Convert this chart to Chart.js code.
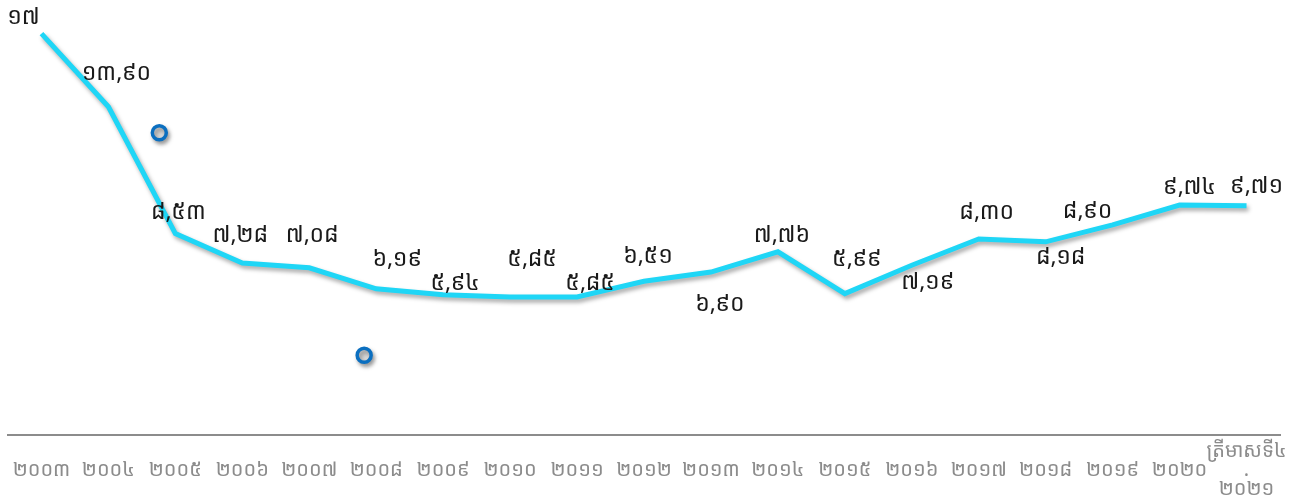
<!DOCTYPE html>
<html>
<head>
<meta charset="utf-8">
<script src="https://cdn.jsdelivr.net/npm/chart.js@4.4.1/dist/chart.umd.min.js"></script>
<style>
  html, body { margin: 0; padding: 0; background: #ffffff; }
  #wrap { width: 1292px; height: 504px; }
</style>
</head>
<body>
<div id="wrap"><canvas id="c" width="1292" height="504"></canvas></div>
<script>
// ---- data ----
const categories = ["២០០៣","២០០៤","២០០៥","២០០៦","២០០៧","២០០៨","២០០៩","២០១០","២០១១","២០១២","២០១៣","២០១៤","២០១៥","២០១៦","២០១៧","២០១៨","២០១៩","២០២០",["ត្រីមាសទី៤",".","២០២១"]];
const rateValues = [17, 13.90, 8.53, 7.28, 7.08, 6.19, 5.94, 5.85, 5.85, 6.51, 6.90, 7.76, 5.99, 7.19, 8.30, 8.18, 8.90, 9.74, 9.71];
// stray ring markers seen in the picture (category index, value)
const markerX = [1.76, 4.82];
const markerY = [12.8, 3.38];

// ---- label placement (style, pixels relative to the point) ----
const labelDX = [-18, 8, 3, -2, 3, 21, 12, 22, 13, 4, 9, 4, 12, 16, 8, 15, -25, 10, 10];
const labelDY = [-16, -33, -21, -28, -32, -29, -11, -37, -13, -25, 32, -16, -34, 17, -27, 16, -13, -18, -19];

const khDigits = ['០','១','២','៣','៤','៥','៦','៧','៨','៩'];
function toKhmer(v) {
  const s = Number.isInteger(v) ? String(v) : v.toFixed(2).replace('.', ',');
  return s.replace(/[0-9]/g, d => khDigits[+d]);
}

const FONT = "'Noto Sans Khmer', 'Khmer OS System', 'Khmer OS', 'Noto Sans', 'DejaVu Sans', sans-serif";

const shadowPlugin = {
  id: 'shadow',
  beforeDatasetsDraw(chart) {
    const ctx = chart.ctx;
    ctx.save();
    ctx.shadowColor = 'rgba(0,0,0,0.35)';
    ctx.shadowBlur = 4;
    ctx.shadowOffsetX = 2;
    ctx.shadowOffsetY = 3;
  },
  afterDatasetsDraw(chart) {
    chart.ctx.restore();
  }
};

const labelPlugin = {
  id: 'valueLabels',
  afterDatasetsDraw(chart) {
    const ctx = chart.ctx;
    const meta = chart.getDatasetMeta(0);
    ctx.save();
    ctx.font = "23px " + FONT;
    ctx.fillStyle = '#1a1a1a';
    ctx.textAlign = 'center';
    ctx.textBaseline = 'middle';
    meta.data.forEach((pt, i) => {
      ctx.fillText(toKhmer(rateValues[i]), pt.x + labelDX[i], pt.y + labelDY[i]);
    });
    ctx.restore();
  }
};

new Chart(document.getElementById('c'), {
  type: 'line',
  data: {
    labels: categories,
    datasets: [{
      data: rateValues,
      borderColor: '#1fd6f6',
      borderWidth: 5,
      pointRadius: 0,
      tension: 0,
      fill: false,
      xAxisID: 'x',
      yAxisID: 'y'
    }, {
      type: 'scatter',
      data: markerX.map((x, i) => ({ x: x, y: markerY[i] })),
      xAxisID: 'x2',
      yAxisID: 'y',
      pointRadius: 7,
      pointBorderWidth: 3.5,
      pointBorderColor: '#0b6fc0',
      pointBackgroundColor: '#d8d8d8',
      showLine: false
    }]
  },
  options: {
    responsive: false,
    animation: false,
    devicePixelRatio: 1,
    layout: { autoPadding: false, padding: { left: 8, right: 12, top: 10, bottom: 0 } },
    plugins: { legend: { display: false }, tooltip: { enabled: false } },
    scales: {
      x: {
        type: 'category',
        offset: true,
        grid: { display: false, drawTicks: false },
        border: { display: true, color: '#8c8c8c', width: 2 },
        ticks: {
          color: '#8c8c8c',
          font: { family: FONT, size: 20, lineHeight: '19px' },
          padding: 16,
          maxRotation: 0,
          autoSkip: false,
          crossAlign: 'center'
        },
        afterFit(scale) {
          scale.height = 69;
          scale.paddingLeft = 0;
          scale.paddingRight = 0;
        }
      },
      x2: {
        type: 'linear',
        display: false,
        min: -0.5,
        max: 18.5
      },
      y: {
        display: false,
        min: 0,
        max: 18
      }
    }
  },
  plugins: [shadowPlugin, labelPlugin]
});
</script>
</body>
</html>
